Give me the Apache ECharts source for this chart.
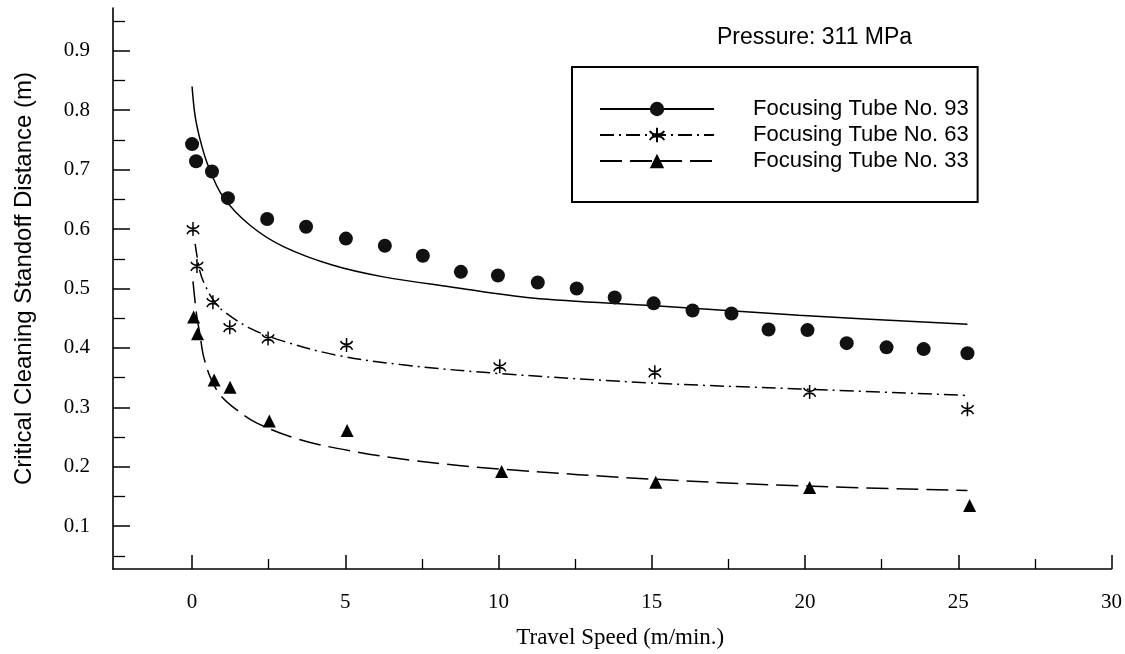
<!DOCTYPE html>
<html>
<head>
<meta charset="utf-8">
<script src="https://cdn.jsdelivr.net/npm/echarts@6/dist/echarts.min.js"></script>
<style>
  html, body { margin: 0; padding: 0; background: #fff; }
  #chart { width: 1125px; height: 654px; }
</style>
</head>
<body>
<div id="chart"></div>
<script>
// ---- data ----
const seriesNames = ['Focusing Tube No. 93', 'Focusing Tube No. 63', 'Focusing Tube No. 33'];

const tube93X = [0, 0.13, 0.65, 1.17, 2.45, 3.72, 5.02, 6.29, 7.53, 8.77, 9.98, 11.28, 12.55, 13.79, 15.06, 16.33, 17.6, 18.81, 20.08, 21.36, 22.66, 23.87, 25.3];
const tube93Y = [0.743, 0.714, 0.697, 0.652, 0.617, 0.604, 0.584, 0.572, 0.555, 0.528, 0.522, 0.510, 0.500, 0.485, 0.475, 0.463, 0.458, 0.431, 0.430, 0.408, 0.401, 0.398, 0.391];

const tube63X = [0.03, 0.16, 0.68, 1.23, 2.48, 5.04, 10.04, 15.1, 20.15, 25.3];
const tube63Y = [0.600, 0.538, 0.477, 0.435, 0.416, 0.405, 0.369, 0.359, 0.326, 0.297];

const tube33X = [0.05, 0.18, 0.72, 1.24, 2.52, 5.06, 10.1, 15.13, 20.15, 25.37];
const tube33Y = [0.452, 0.424, 0.346, 0.334, 0.277, 0.261, 0.192, 0.174, 0.165, 0.135];

const fit93X = [0, 0.1, 0.26, 0.5, 1.0, 1.9, 3.0, 4.6, 6.2, 8.4, 11.1, 15.1, 19.8, 25.3];
const fit93Y = [0.84, 0.79, 0.751, 0.71, 0.655, 0.606, 0.57, 0.539, 0.52, 0.503, 0.484, 0.471, 0.455, 0.44];

const fit63X = [0.1, 0.25, 0.4, 0.7, 1.0, 1.9, 3.0, 4.7, 6.8, 10.0, 15.0, 19.8, 25.3];
const fit63Y = [0.575, 0.53, 0.508, 0.48, 0.463, 0.433, 0.411, 0.388, 0.372, 0.357, 0.341, 0.331, 0.32];

const fit33X = [0.03, 0.15, 0.26, 0.37, 0.6, 0.9, 1.35, 2.1, 3.5, 5.15, 7.3, 10.1, 15.1, 19.8, 25.3];
const fit33Y = [0.512, 0.455, 0.422, 0.387, 0.35, 0.322, 0.3, 0.274, 0.246, 0.227, 0.21, 0.196, 0.179, 0.168, 0.16];

const xMajorTicks = [0, 5, 10, 15, 20, 25, 30];
const xMinorTicks = [2.5, 7.5, 12.5, 17.5, 22.5, 27.5];
const yMajorTicks = [0.1, 0.2, 0.3, 0.4, 0.5, 0.6, 0.7, 0.8, 0.9];
const yMinorTicks = [0.05, 0.15, 0.25, 0.35, 0.45, 0.55, 0.65, 0.75, 0.85, 0.95];

const xRange = [-2.58, 30];
const yRange = [0.028, 0.972];

const annotationText = 'Pressure: 311 MPa';
const xTitle = 'Travel Speed (m/min.)';
const yTitle = 'Critical Cleaning Standoff Distance (m)';

// ---- helpers ----
const zip = (xs, ys) => xs.map((x, i) => [x, ys[i]]);
const asteriskPath = 'path://M6 0 L6 14 M0.5 3 C2.5 7.5 9.5 7.5 11.5 3 M0.5 12 C2.5 7 9.5 7 11.5 12';

const serif = 'Liberation Serif';
const sans = 'Liberation Sans';

const chart = echarts.init(document.getElementById('chart'), null, { renderer: 'canvas' });

const axisCommon = {
  type: 'value',
  splitLine: { show: false },
};

const option = {
  animation: false,
  backgroundColor: '#fff',
  grid: { left: 113, right: 13, top: 8, bottom: 82, containLabel: false },
  xAxis: [
    Object.assign({}, axisCommon, {
      min: xRange[0], max: xRange[1], position: 'bottom',
      axisLine: { show: true, onZero: false, lineStyle: { color: '#000', width: 1.6 } },
      axisTick: { show: true, inside: true, length: 14, customValues: xMajorTicks, lineStyle: { color: '#000', width: 1.5 } },
      axisLabel: { show: true, customValues: xMajorTicks, margin: 23, color: '#000', fontFamily: serif, fontSize: 21 },
      name: xTitle, nameLocation: 'middle', nameGap: 57,
      nameTextStyle: { color: '#000', fontFamily: serif, fontSize: 23, padding: [0, 0, 0, 16] }
    }),
    Object.assign({}, axisCommon, {
      min: xRange[0], max: xRange[1], position: 'bottom', offset: 0,
      axisLine: { show: false, onZero: false },
      axisTick: { show: true, inside: true, length: 10, customValues: xMinorTicks, lineStyle: { color: '#000', width: 1.3 } },
      axisLabel: { show: false }
    })
  ],
  yAxis: [
    Object.assign({}, axisCommon, {
      min: yRange[0], max: yRange[1], position: 'left',
      axisLine: { show: true, onZero: false, lineStyle: { color: '#000', width: 1.6 } },
      axisTick: { show: true, inside: true, length: 17, customValues: yMajorTicks, lineStyle: { color: '#000', width: 1.5 } },
      axisLabel: { show: true, customValues: yMajorTicks, margin: 23, color: '#000', fontFamily: serif, fontSize: 21,
        padding: [6, 0, 0, 0], formatter: v => v.toFixed(1) },
      name: yTitle, nameLocation: 'middle', nameGap: 77,
      nameTextStyle: { color: '#000', fontFamily: sans, fontSize: 24, padding: [0, 0, 0, 20] }
    }),
    Object.assign({}, axisCommon, {
      min: yRange[0], max: yRange[1], position: 'left', offset: 0,
      axisLine: { show: false, onZero: false },
      axisTick: { show: true, inside: true, length: 12, customValues: yMinorTicks, lineStyle: { color: '#000', width: 1.3 } },
      axisLabel: { show: false }
    })
  ],
  legend: {
    show: true,
    orient: 'vertical',
    left: 572, top: 67,
    data: seriesNames,
    itemWidth: 114, itemHeight: 18, itemGap: 4,
    padding: [31, 9, 30, 27],
    borderColor: '#000', borderWidth: 2,
    selectedMode: false,
    textStyle: { color: '#000', fontFamily: sans, fontSize: 22, lineHeight: 22, padding: [0, 0, 0, 34] }
  },
  graphic: [
    {
      type: 'text', left: 717, top: 26,
      style: { text: annotationText, fill: '#000', font: '23px "Liberation Sans"' }
    }
  ],
  series: [
    {
      name: seriesNames[0], type: 'line', xAxisIndex: 0, yAxisIndex: 0,
      data: zip(fit93X, fit93Y), smooth: 0.35,
      symbol: 'circle', showSymbol: false, symbolSize: 14,
      lineStyle: { color: '#000', width: 1.5, type: 'solid' },
      itemStyle: { color: '#111', opacity: 1 }
    },
    {
      name: seriesNames[1], type: 'line', xAxisIndex: 0, yAxisIndex: 0,
      data: zip(fit63X, fit63Y), smooth: 0.35,
      symbol: asteriskPath, showSymbol: false, symbolSize: [11, 13],
      lineStyle: { color: '#000', width: 1.5, type: [14, 5, 2, 5] },
      itemStyle: { color: 'rgba(0,0,0,0)', borderColor: '#000', borderWidth: 1.5, opacity: 1 }
    },
    {
      name: seriesNames[2], type: 'line', xAxisIndex: 0, yAxisIndex: 0,
      data: zip(fit33X, fit33Y), smooth: 0.35,
      symbol: 'triangle', showSymbol: false, symbolSize: 13,
      lineStyle: { color: '#000', width: 1.5, type: [22, 8] },
      itemStyle: { color: '#000', opacity: 1 }
    },
    {
      name: 'pts93', type: 'scatter', xAxisIndex: 0, yAxisIndex: 0,
      data: zip(tube93X, tube93Y), symbol: 'circle', symbolSize: 14,
      itemStyle: { color: '#111', opacity: 1 }, z: 3
    },
    {
      name: 'pts63', type: 'scatter', xAxisIndex: 0, yAxisIndex: 0,
      data: zip(tube63X, tube63Y), symbol: asteriskPath, symbolSize: [12, 14],
      itemStyle: { color: 'rgba(0,0,0,0)', borderColor: '#000', borderWidth: 1.6, opacity: 1 }, z: 3
    },
    {
      name: 'pts33', type: 'scatter', xAxisIndex: 0, yAxisIndex: 0,
      data: zip(tube33X, tube33Y), symbol: 'triangle', symbolSize: 13,
      itemStyle: { color: '#000', opacity: 1 }, z: 3
    }
  ]
};

chart.setOption(option);
</script>
</body>
</html>
